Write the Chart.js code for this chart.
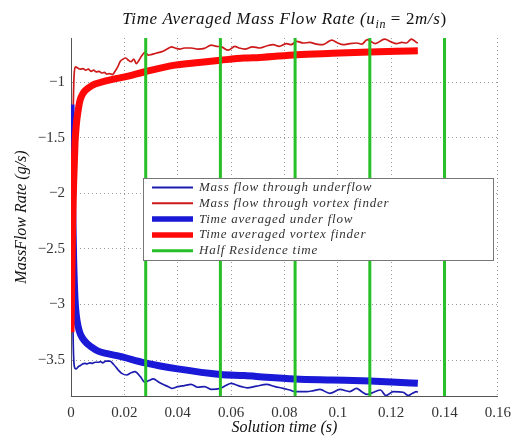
<!DOCTYPE html>
<html>
<head>
<meta charset="utf-8">
<script src="https://cdn.jsdelivr.net/npm/chart.js@4"></script>
<style>
html,body{margin:0;padding:0;background:#fff;}
canvas{display:block;}
</style>
</head>
<body>
<canvas id="c" width="519" height="439"></canvas>
<script>
// ---------- data ----------
const xTicks = [0, 0.02, 0.04, 0.06, 0.08, 0.1, 0.12, 0.14, 0.16];
const yTicks = [-3.5, -3, -2.5, -2, -1.5, -1];

const underT = [0, 0.0004, 0.0008, 0.0012, 0.0018, 0.00275, 0.0035, 0.0043, 0.0052, 0.006,
  0.007, 0.008, 0.009, 0.0102, 0.011, 0.012, 0.013, 0.0146, 0.016, 0.0177,
  0.019, 0.0209, 0.0225, 0.024, 0.026, 0.0277, 0.0292, 0.0308, 0.033, 0.035,
  0.0365, 0.0377, 0.040, 0.0425, 0.045, 0.0475, 0.050, 0.0527, 0.056, 0.058,
  0.060, 0.062, 0.064, 0.066, 0.0695, 0.0733, 0.0765, 0.0795, 0.082, 0.084,
  0.0883, 0.091, 0.0933, 0.097, 0.1008, 0.1045, 0.107, 0.109, 0.111, 0.1135,
  0.116, 0.118, 0.1208, 0.1245, 0.1264, 0.128, 0.1295, 0.130];
const underFlow = [-1.2, -2.4, -3.3, -3.55, -3.58, -3.56, -3.55, -3.535, -3.53, -3.535,
  -3.525, -3.53, -3.52, -3.52, -3.515, -3.525, -3.51, -3.51, -3.54, -3.59,
  -3.62, -3.635, -3.615, -3.605, -3.65, -3.70, -3.685, -3.67, -3.70, -3.725,
  -3.74, -3.755, -3.74, -3.73, -3.72, -3.745, -3.74, -3.765, -3.755, -3.73,
  -3.71, -3.725, -3.74, -3.75, -3.735, -3.72, -3.74, -3.755, -3.77, -3.785,
  -3.785, -3.775, -3.765, -3.80, -3.765, -3.785, -3.755, -3.785, -3.81, -3.79,
  -3.77, -3.82, -3.785, -3.79, -3.82, -3.80, -3.785, -3.79];

const vortexT = [0, 0.0004, 0.0008, 0.0012, 0.0017, 0.0025, 0.0035, 0.0045, 0.0055, 0.0065,
  0.0075, 0.0085, 0.0095, 0.0105, 0.0115, 0.0125, 0.0135, 0.0145, 0.0155, 0.0165,
  0.0175, 0.0185, 0.0195, 0.0205, 0.0215, 0.0225, 0.0235, 0.0245, 0.0255, 0.0265,
  0.0277, 0.029, 0.030, 0.0315, 0.033, 0.0345, 0.036, 0.0377, 0.039, 0.0408,
  0.0425, 0.045, 0.0475, 0.050, 0.0525, 0.0545, 0.0564, 0.0589, 0.0614, 0.063,
  0.0652, 0.068, 0.0708, 0.0735, 0.0758, 0.078, 0.0808, 0.0825, 0.0846, 0.087,
  0.0895, 0.092, 0.0945, 0.096, 0.0977, 0.100, 0.102, 0.1045, 0.107, 0.109,
  0.111, 0.114, 0.1176, 0.120, 0.122, 0.124, 0.1257, 0.1276, 0.1295, 0.130];
const vortexFlow = [-3.25, -2.3, -1.3, -0.92, -0.86, -0.87, -0.88, -0.875, -0.89, -0.88,
  -0.90, -0.89, -0.905, -0.90, -0.915, -0.91, -0.925, -0.92, -0.93, -0.90,
  -0.86, -0.81, -0.79, -0.78, -0.80, -0.814, -0.79, -0.83, -0.80, -0.76,
  -0.73, -0.754, -0.75, -0.74, -0.73, -0.72, -0.70, -0.68, -0.69, -0.70,
  -0.69, -0.69, -0.70, -0.694, -0.664, -0.675, -0.68, -0.71, -0.675, -0.69,
  -0.70, -0.68, -0.69, -0.67, -0.66, -0.675, -0.65, -0.66, -0.63, -0.645,
  -0.64, -0.655, -0.66, -0.64, -0.62, -0.645, -0.66, -0.65, -0.645, -0.655,
  -0.615, -0.65, -0.61, -0.635, -0.65, -0.64, -0.645, -0.61, -0.64, -0.645];

const avgUnderT = [0, 0.0003, 0.0006, 0.001, 0.0015, 0.002, 0.0027, 0.0034, 0.0045, 0.0059,
  0.0075, 0.0102, 0.014, 0.018, 0.0277, 0.04, 0.056, 0.065, 0.0733, 0.084,
  0.098, 0.112, 0.122, 0.13];
const avgUnder = [-1.2, -1.6, -2.1, -2.6, -2.95, -3.1, -3.2, -3.26, -3.31, -3.35,
  -3.38, -3.42, -3.445, -3.465, -3.525, -3.58, -3.63, -3.64, -3.655, -3.67,
  -3.68, -3.69, -3.70, -3.71];

const avgVortexT = [0, 0.0003, 0.0006, 0.001, 0.0015, 0.002, 0.0027, 0.0034, 0.0045, 0.0057,
  0.0071, 0.009, 0.0127, 0.016, 0.0202, 0.0277, 0.039, 0.048, 0.056, 0.065,
  0.0708, 0.0846, 0.098, 0.112, 0.122, 0.13];
const avgVortex = [-3.25, -2.8, -2.3, -1.9, -1.55, -1.38, -1.25, -1.16, -1.1, -1.065,
  -1.04, -1.015, -0.988, -0.97, -0.95, -0.904, -0.844, -0.82, -0.80, -0.78,
  -0.775, -0.75, -0.738, -0.727, -0.72, -0.715];

const halfResidence = [0.028, 0.056, 0.084, 0.112, 0.14];

const seriesLabels = ['Mass flow through underflow', 'Mass flow through vortex finder',
  'Time averaged under flow', 'Time averaged vortex finder', 'Half Residence time'];

const Y_MIN = -3.824, Y_MAX = -0.6;
// ---------- build ----------
const pts = (t, v) => t.map((x, i) => ({x: x, y: v[i]}));
const C_THIN_BLUE = 'rgb(28,28,175)';
const C_THIN_RED = 'rgb(205,25,25)';
const C_BLUE = 'rgb(25,25,215)';
const C_RED = 'rgb(255,8,8)';
const C_GREEN = 'rgb(40,192,40)';

const datasets = [
  {label: seriesLabels[0], data: pts(underT, underFlow), borderColor: C_THIN_BLUE, borderWidth: 1.7, order: 6, cubicInterpolationMode: 'monotone'},
  {label: seriesLabels[1], data: pts(vortexT, vortexFlow), borderColor: C_THIN_RED, borderWidth: 1.7, order: 5, cubicInterpolationMode: 'monotone'},
  {label: seriesLabels[2], data: pts(avgUnderT, avgUnder), borderColor: C_BLUE, borderWidth: 7, order: 4, cubicInterpolationMode: 'monotone'},
  {label: seriesLabels[3], data: pts(avgVortexT, avgVortex), borderColor: C_RED, borderWidth: 7, order: 3, cubicInterpolationMode: 'monotone'}
];
halfResidence.forEach((t, i) => {
  datasets.push({label: i === 0 ? seriesLabels[4] : '', data: [{x: t, y: Y_MIN}, {x: t, y: Y_MAX}],
    borderColor: C_GREEN, borderWidth: 3, order: 1});
});

const SERIF = '"Liberation Serif", "DejaVu Serif", serif';

const titlePlugin = {
  id: 'mtitle',
  afterDraw(chart) {
    const ctx = chart.ctx, ca = chart.chartArea;
    const parts = [
      {t: 'Time Averaged Mass Flow Rate (', f: 'italic 17px ' + SERIF, dy: 0},
      {t: 'u', f: 'italic 17px ' + SERIF, dy: 0},
      {t: 'in', f: 'italic 12px ' + SERIF, dy: 4},
      {t: ' = 2', f: '17px ' + SERIF, dy: 0},
      {t: 'm/s', f: 'italic 17px ' + SERIF, dy: 0},
      {t: ')', f: '17px ' + SERIF, dy: 0}
    ];
    ctx.save();
    ctx.letterSpacing = '0.6px';
    let w = 0;
    parts.forEach(p => { ctx.font = p.f; p.w = ctx.measureText(p.t).width; w += p.w; });
    let x = (ca.left + ca.right) / 2 - w / 2;
    ctx.fillStyle = '#111';
    ctx.textBaseline = 'alphabetic';
    parts.forEach(p => { ctx.font = p.f; ctx.fillText(p.t, x, 24 + p.dy); x += p.w; });
    ctx.restore();
  }
};

const legendPlugin = {
  id: 'mlegend',
  afterDraw(chart) {
    const ctx = chart.ctx;
    const x0 = 143, y0 = 178, x1 = 493, y1 = 260;
    ctx.save();
    ctx.fillStyle = '#fff';
    ctx.fillRect(x0, y0, x1 - x0, y1 - y0);
    ctx.strokeStyle = '#777';
    ctx.lineWidth = 1;
    ctx.strokeRect(x0 + 0.5, y0 + 0.5, x1 - x0, y1 - y0);
    const items = [0, 1, 2, 3, 4].map(i => {
      const ds = chart.data.datasets[i];
      return {label: seriesLabels[i], color: ds.borderColor, w: i === 4 ? 3 : (i >= 2 ? 5.5 : 2)};
    });
    ctx.font = 'italic 13px ' + SERIF;
    ctx.letterSpacing = '0.75px';
    ctx.textBaseline = 'middle';
    items.forEach((it, i) => {
      const y = 187.5 + i * 15.8;
      ctx.strokeStyle = it.color;
      ctx.lineWidth = it.w;
      ctx.beginPath(); ctx.moveTo(152, y); ctx.lineTo(193, y); ctx.stroke();
      ctx.fillStyle = '#333';
      ctx.fillText(it.label, 199, y);
    });
    ctx.restore();
  }
};

const fmtX = v => String(Math.round(v * 100) / 100);
const fmtY = v => String(Math.round(v * 10) / 10).replace('-', '\u2212');

new Chart(document.getElementById('c'), {
  type: 'line',
  data: {datasets: datasets},
  options: {
    responsive: false,
    animation: false,
    events: [],
    elements: {point: {radius: 0}, line: {fill: false}},
    layout: {padding: {left: 0, right: 21, top: 38, bottom: 0}},
    plugins: {legend: {display: false}, title: {display: false}, tooltip: {enabled: false}},
    scales: {
      x: {
        type: 'linear', min: 0, max: 0.16,
        afterBuildTicks: s => { s.ticks = xTicks.map(v => ({value: v})); },
        afterFit: s => { s.height = 43; },
        ticks: {callback: fmtX, font: {family: SERIF, size: 15}, color: '#333', padding: 8, maxRotation: 0, autoSkip: false},
        grid: {color: 'rgba(120,120,120,0.75)', lineWidth: 1, drawTicks: false},
        border: {display: true, color: '#555', width: 1, dash: [1, 3]},
        title: {display: true, text: 'Solution time (s)', color: '#111', font: {family: SERIF, size: 16, style: 'italic'}, padding: {top: 0, bottom: 2}}
      },
      y: {
        type: 'linear', min: Y_MIN, max: Y_MAX,
        afterBuildTicks: s => { s.ticks = yTicks.map(v => ({value: v})); },
        afterFit: s => { s.width = 71; },
        ticks: {callback: fmtY, font: {family: SERIF, size: 15}, color: '#333', padding: 6, autoSkip: false},
        grid: {color: 'rgba(120,120,120,0.75)', lineWidth: 1, drawTicks: false},
        border: {display: true, color: '#555', width: 1, dash: [1, 3]},
        title: {display: true, text: 'MassFlow Rate (g/s)', color: '#111', font: {family: SERIF, size: 16, style: 'italic'}, padding: {top: 12, bottom: 0}}
      }
    }
  },
  plugins: [titlePlugin, legendPlugin]
});
</script>
</body>
</html>
